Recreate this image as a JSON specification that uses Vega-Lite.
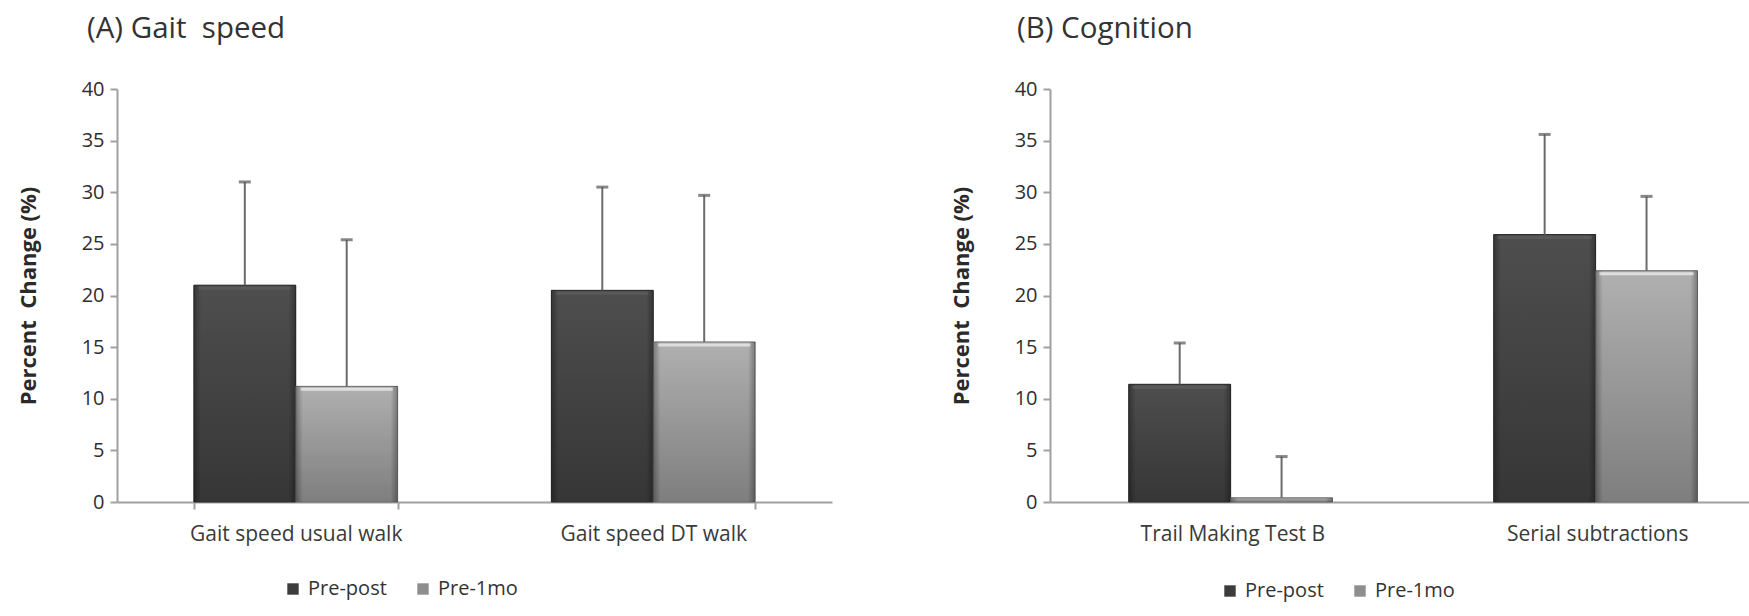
{
  "$schema": "https://vega.github.io/schema/vega-lite/v6.json",
  "background": "white",
  "padding": {"left": 17, "top": 13, "right": 0, "bottom": 2},
  "config": {
    "font": "Open Sans",
    "view": {"stroke": null},
    "axisY": {
      "grid": false,
      "values": [0, 5, 10, 15, 20, 25, 30, 35, 40],
      "labelFontSize": 20,
      "labelColor": "#2e2e2e",
      "labelPadding": 6,
      "domainColor": "#a0a0a0",
      "domainWidth": 2,
      "tickColor": "#a0a0a0",
      "tickWidth": 2,
      "tickSize": 7,
      "titleFontSize": 22,
      "titleFontWeight": "bold",
      "titleColor": "#2a2a2a",
      "titlePadding": 41
    },
    "axisX": {
      "grid": false,
      "labelAngle": 0,
      "labelFontSize": 21,
      "labelLimit": 0,
      "labelColor": "#3a3a3a",
      "domainColor": "#a0a0a0",
      "domainWidth": 2,
      "tickColor": "#a0a0a0",
      "tickWidth": 2,
      "title": null
    },
    "legend": {"padding": 0},
    "title": {"fontSize": 29.5, "fontWeight": "normal", "color": "#333333", "anchor": "start", "frame": "group"}
  },
  "datasets": {
    "rows": [
      {"panel": "A", "test": "Gait speed usual walk", "series": "Pre-post", "value": 21.0, "upper": 31.0},
      {"panel": "A", "test": "Gait speed usual walk", "series": "Pre-1mo", "value": 11.2, "upper": 25.4},
      {"panel": "A", "test": "Gait speed DT walk", "series": "Pre-post", "value": 20.5, "upper": 30.5},
      {"panel": "A", "test": "Gait speed DT walk", "series": "Pre-1mo", "value": 15.5, "upper": 29.7},
      {"panel": "B", "test": "Trail Making Test B", "series": "Pre-post", "value": 11.4, "upper": 15.4},
      {"panel": "B", "test": "Trail Making Test B", "series": "Pre-1mo", "value": 0.4, "upper": 4.4},
      {"panel": "B", "test": "Serial subtractions", "series": "Pre-post", "value": 25.9, "upper": 35.6},
      {"panel": "B", "test": "Serial subtractions", "series": "Pre-1mo", "value": 22.4, "upper": 29.6}
    ]
  },
  "spacing": 118,
  "resolve": {"scale": {"color": "independent"}, "legend": {"color": "independent"}},
  "hconcat": [
    {
      "title": {"text": "(A) Gait\u00a0\u00a0speed", "dx": -30, "offset": 35},
      "width": 715,
      "height": 413,
      "data": {"name": "rows"},
      "transform": [{"filter": "datum.panel === 'A'"}],
      "encoding": {
        "x": {
          "field": "test", "type": "nominal",
          "sort": ["Gait speed usual walk", "Gait speed DT walk"],
          "scale": {"paddingInner": 0.43, "paddingOuter": 0.215},
          "axis": {"tickBand": "extent", "tickSize": 7, "labelPadding": 14}
        },
        "xOffset": {"field": "series", "type": "nominal", "sort": ["Pre-post", "Pre-1mo"], "scale": {"paddingInner": 0, "paddingOuter": 0}}
      },
      "layer": [
        {
          "mark": {"type": "bar"},
          "encoding": {
            "y": {"field": "value", "type": "quantitative", "scale": {"domain": [0, 40]}, "title": "Percent\u00a0\u00a0Change (%)"},
            "color": {
              "field": "series", "type": "nominal",
              "scale": {"domain": ["Pre-post", "Pre-1mo"], "range": ["#3c3c3c", "#8e8e8e"]},
              "legend": {"orient": "none", "legendX": 166, "legendY": 490, "direction": "horizontal", "title": null, "symbolType": "square", "symbolSize": 130, "labelFontSize": 20, "labelColor": "#333333", "columnPadding": 26, "labelOffset": 5}
            }
          }
        },
        {
          "mark": {"type": "bar", "strokeWidth": 1},
          "encoding": {
            "y": {"field": "value", "type": "quantitative", "title": "Percent\u00a0\u00a0Change (%)"},
            "fill": {
              "condition": {"test": "datum.series === 'Pre-post'", "value": {"gradient": "linear", "x1": 0, "y1": 0, "x2": 0, "y2": 1, "stops": [{"offset": 0, "color": "#4e4e4e"}, {"offset": 1, "color": "#363636"}]}},
              "value": {"gradient": "linear", "x1": 0, "y1": 0, "x2": 0, "y2": 1, "stops": [{"offset": 0, "color": "#b0b0b0"}, {"offset": 1, "color": "#7e7e7e"}]}
            },
            "stroke": {"condition": {"test": "datum.series === 'Pre-post'", "value": "#2c2c2c"}, "value": "#6e6e6e"}
          }
        },
        {
          "mark": {"type": "bar", "fill": {"gradient": "linear", "x1": 0, "y1": 0, "x2": 1, "y2": 0, "stops": [{"offset": 0, "color": "rgba(0,0,0,0.3)"}, {"offset": 0.07, "color": "rgba(0,0,0,0)"}, {"offset": 0.93, "color": "rgba(0,0,0,0)"}, {"offset": 1, "color": "rgba(0,0,0,0.3)"}]}},
          "encoding": {"y": {"field": "value", "type": "quantitative", "title": "Percent\u00a0\u00a0Change (%)"}}
        },
        {
          "transform": [{"filter": "datum.value > 2"}],
          "mark": {"type": "tick", "thickness": 3, "size": 92, "yOffset": 3},
          "encoding": {
            "y": {"field": "value", "type": "quantitative", "title": "Percent\u00a0\u00a0Change (%)"},
            "color": {"condition": {"test": "datum.series === 'Pre-post'", "value": "#5e5e5e"}, "value": "#f2f2f2"}
          }
        },
        {
          "mark": {"type": "rule", "color": "#6b6b6b", "strokeWidth": 2},
          "encoding": {
            "y": {"field": "value", "type": "quantitative", "title": "Percent\u00a0\u00a0Change (%)"},
            "y2": {"field": "upper"}
          }
        },
        {
          "mark": {"type": "tick", "color": "#555555", "thickness": 3, "size": 12},
          "encoding": {"y": {"field": "upper", "type": "quantitative", "title": "Percent\u00a0\u00a0Change (%)"}}
        }
      ]
    },
    {
      "title": {"text": "(B) Cognition", "dx": -33, "offset": 35},
      "width": 700,
      "height": 413,
      "data": {"name": "rows"},
      "transform": [{"filter": "datum.panel === 'B'"}],
      "encoding": {
        "x": {
          "field": "test", "type": "nominal",
          "sort": ["Trail Making Test B", "Serial subtractions"],
          "scale": {"paddingInner": 0.43, "paddingOuter": 0.174, "align": 0.62},
          "axis": {"ticks": false, "labelPadding": 21}
        },
        "xOffset": {"field": "series", "type": "nominal", "sort": ["Pre-post", "Pre-1mo"], "scale": {"paddingInner": 0, "paddingOuter": 0}}
      },
      "layer": [
        {
          "mark": {"type": "bar"},
          "encoding": {
            "y": {"field": "value", "type": "quantitative", "scale": {"domain": [0, 40]}, "title": "Percent\u00a0\u00a0Change (%)"},
            "color": {
              "field": "series", "type": "nominal",
              "scale": {"domain": ["Pre-post", "Pre-1mo"], "range": ["#3c3c3c", "#8e8e8e"]},
              "legend": {"orient": "none", "legendX": 170, "legendY": 492, "direction": "horizontal", "title": null, "symbolType": "square", "symbolSize": 130, "labelFontSize": 20, "labelColor": "#333333", "columnPadding": 26, "labelOffset": 5}
            }
          }
        },
        {
          "mark": {"type": "bar", "strokeWidth": 1},
          "encoding": {
            "y": {"field": "value", "type": "quantitative", "title": "Percent\u00a0\u00a0Change (%)"},
            "fill": {
              "condition": {"test": "datum.series === 'Pre-post'", "value": {"gradient": "linear", "x1": 0, "y1": 0, "x2": 0, "y2": 1, "stops": [{"offset": 0, "color": "#4e4e4e"}, {"offset": 1, "color": "#363636"}]}},
              "value": {"gradient": "linear", "x1": 0, "y1": 0, "x2": 0, "y2": 1, "stops": [{"offset": 0, "color": "#b0b0b0"}, {"offset": 1, "color": "#7e7e7e"}]}
            },
            "stroke": {"condition": {"test": "datum.series === 'Pre-post'", "value": "#2c2c2c"}, "value": "#6e6e6e"}
          }
        },
        {
          "mark": {"type": "bar", "fill": {"gradient": "linear", "x1": 0, "y1": 0, "x2": 1, "y2": 0, "stops": [{"offset": 0, "color": "rgba(0,0,0,0.3)"}, {"offset": 0.07, "color": "rgba(0,0,0,0)"}, {"offset": 0.93, "color": "rgba(0,0,0,0)"}, {"offset": 1, "color": "rgba(0,0,0,0.3)"}]}},
          "encoding": {"y": {"field": "value", "type": "quantitative", "title": "Percent\u00a0\u00a0Change (%)"}}
        },
        {
          "transform": [{"filter": "datum.value > 2"}],
          "mark": {"type": "tick", "thickness": 3, "size": 94, "yOffset": 3},
          "encoding": {
            "y": {"field": "value", "type": "quantitative", "title": "Percent\u00a0\u00a0Change (%)"},
            "color": {"condition": {"test": "datum.series === 'Pre-post'", "value": "#5e5e5e"}, "value": "#f2f2f2"}
          }
        },
        {
          "mark": {"type": "rule", "color": "#6b6b6b", "strokeWidth": 2},
          "encoding": {
            "y": {"field": "value", "type": "quantitative", "title": "Percent\u00a0\u00a0Change (%)"},
            "y2": {"field": "upper"}
          }
        },
        {
          "mark": {"type": "tick", "color": "#555555", "thickness": 3, "size": 12},
          "encoding": {"y": {"field": "upper", "type": "quantitative", "title": "Percent\u00a0\u00a0Change (%)"}}
        }
      ]
    }
  ]
}
